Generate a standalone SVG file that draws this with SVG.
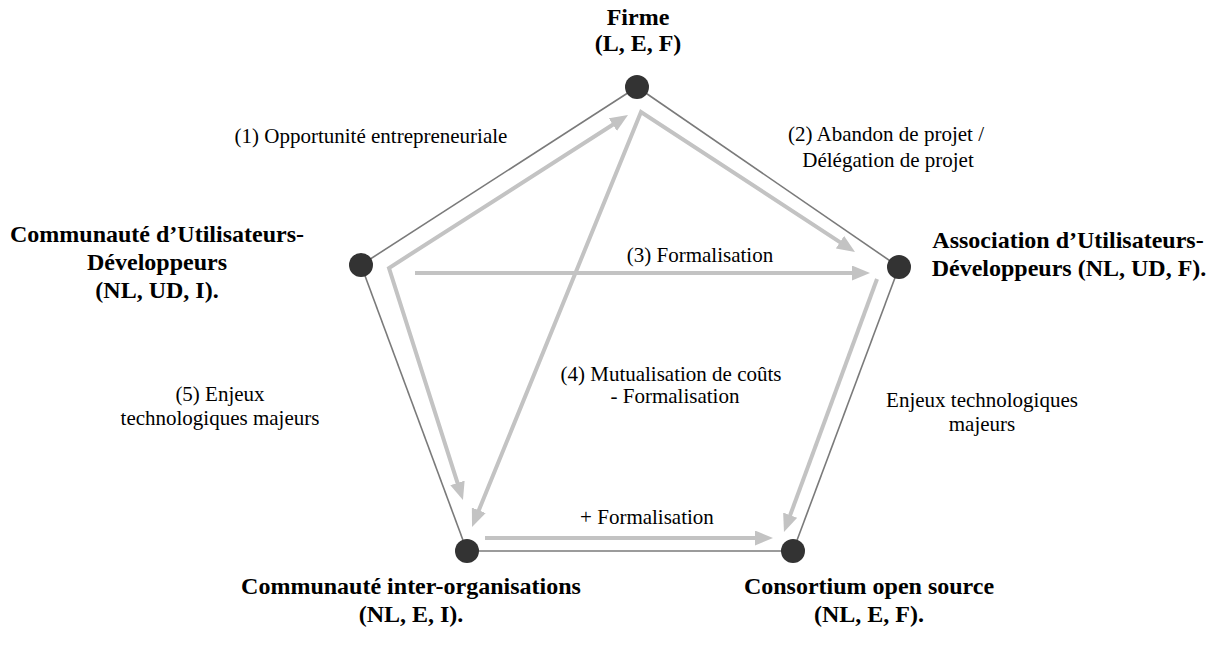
<svg xmlns="http://www.w3.org/2000/svg" width="1215" height="659" viewBox="0 0 1215 659">
<style>
.edge{stroke:#7a7a7a;stroke-width:1.6;fill:none}
.flow{stroke:#c3c3c3;stroke-width:4;fill:none;stroke-linejoin:miter}
.node{fill:#333333}
.title{font-family:'Liberation Serif',Tinos,'Times New Roman',Times,serif;font-size:24px;font-weight:bold;fill:#000;text-anchor:middle}
.lbl{font-family:'Liberation Serif',Tinos,'Times New Roman',Times,serif;font-size:21px;fill:#000;text-anchor:middle}
</style>
<defs>
<marker id="ah" markerUnits="userSpaceOnUse" markerWidth="18" markerHeight="15" refX="4" refY="7.5" orient="auto-start-reverse" viewBox="0 0 18 15">
<path d="M0,0 L18,7.5 L0,15 z" fill="#c3c3c3"/>
</marker>
</defs>
<rect width="1215" height="659" fill="#ffffff"/>
<g id="connectors">
<path class="edge" d="M637,87 L361,265"/>
<path class="edge" d="M637,87 L899,267"/>
<path class="edge" d="M361,265 L467,551"/>
<path class="edge" d="M899,267 L793,551"/>
<path class="edge" d="M467,551 L793,551"/>
<path class="flow" d="M616.2,122.5 L389,268 L458.7,486.7" marker-start="url(#ah)" marker-end="url(#ah)"/>
<path class="flow" d="M477.3,514 L641,112 L843.3,244.3" marker-start="url(#ah)" marker-end="url(#ah)"/>
<path class="flow" d="M415,273 L856,273" marker-end="url(#ah)"/>
<path class="flow" d="M877,279 L788.8,518.9" marker-end="url(#ah)"/>
<path class="flow" d="M485,538 L759,538" marker-end="url(#ah)"/>
<text class="lbl" x="371" y="143">(1) Opportunité entrepreneuriale</text>
<text class="lbl" x="886" y="141">(2) Abandon de projet /</text>
<text class="lbl" x="888" y="167">Délégation de projet</text>
<text class="lbl" x="700" y="262">(3) Formalisation</text>
<text class="lbl" x="671" y="381">(4) Mutualisation de coûts</text>
<text class="lbl" x="675" y="403">- Formalisation</text>
<text class="lbl" x="220" y="401">(5) Enjeux</text>
<text class="lbl" x="220" y="425">technologiques majeurs</text>
<text class="lbl" x="982" y="407">Enjeux technologiques</text>
<text class="lbl" x="982" y="431">majeurs</text>
<text class="lbl" x="647" y="524">+ Formalisation</text>
</g>
<g id="node-firme">
<circle class="node" cx="637" cy="87" r="12"/>
<text class="title" x="638" y="25">Firme</text>
<text class="title" x="638" y="51">(L, E, F)</text>
</g>
<g id="node-communaute-ud">
<circle class="node" cx="361" cy="265" r="12"/>
<text class="title" x="157" y="242">Communauté d’Utilisateurs-</text>
<text class="title" x="157" y="270">Développeurs</text>
<text class="title" x="157" y="298">(NL, UD, I).</text>
</g>
<g id="node-association-ud">
<circle class="node" cx="899" cy="267" r="12"/>
<text class="title" x="1068" y="248">Association d’Utilisateurs-</text>
<text class="title" x="1069" y="276">Développeurs (NL, UD, F).</text>
</g>
<g id="node-communaute-io">
<circle class="node" cx="467" cy="551" r="12"/>
<text class="title" x="411" y="594">Communauté inter-organisations</text>
<text class="title" x="411" y="622">(NL, E, I).</text>
</g>
<g id="node-consortium">
<circle class="node" cx="793" cy="551" r="12"/>
<text class="title" x="869" y="594">Consortium open source</text>
<text class="title" x="869" y="622">(NL, E, F).</text>
</g>
</svg>
